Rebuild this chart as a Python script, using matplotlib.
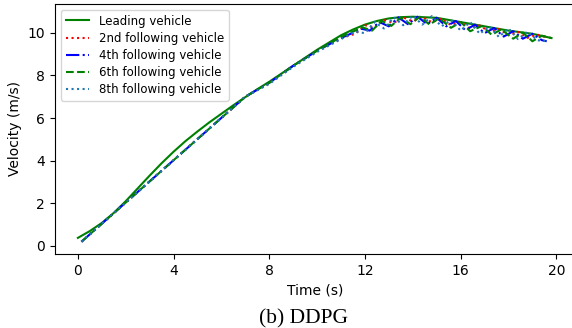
import numpy as np
import matplotlib as mpl
mpl.use("Agg")
import matplotlib.pyplot as plt

# leading vehicle velocity (m/s)
t_lead = [0, 0.5, 1, 1.5, 2, 2.5, 3, 3.5, 4, 4.5, 5, 5.5, 6, 6.5, 7, 7.5, 8, 9, 10,
          11, 11.5, 12, 12.5, 13, 13.5, 14, 15, 16, 17, 18, 19, 19.8]
v_lead = [0.38, 0.7, 1.08, 1.55, 2.1, 2.7, 3.3, 3.88, 4.42, 4.92, 5.37, 5.8, 6.2, 6.6,
          6.98, 7.35, 7.7, 8.45, 9.2, 9.88, 10.15, 10.38, 10.55, 10.67, 10.73, 10.75,
          10.7, 10.5, 10.3, 10.1, 9.95, 9.75]

# 2nd following vehicle
t_2 = [0.15, 7, 8, 9, 10, 11, 11.6, 12.0, 12.4, 12.8, 13.2, 13.6, 14.0, 14.4, 14.8,
       15.2, 15.6, 16.0, 16.4, 16.8, 17.2, 17.6, 18.0, 18.4, 18.8, 19.2, 19.6]
v_2 = [0.2, 7.0, 7.65, 8.45, 9.15, 9.75, 9.95, 10.35, 10.25, 10.6, 10.46, 10.72, 10.53,
       10.74, 10.49, 10.66, 10.36, 10.5, 10.2, 10.34, 10.04, 10.18, 9.88, 10.04, 9.76,
       9.91, 9.78]

# 4th following vehicle
t_4 = [0.15, 7, 8, 9, 10, 11, 11.4, 11.8, 12.2, 12.6, 13.0, 13.4, 13.8, 14.2, 14.6,
       15.0, 15.4, 15.8, 16.2, 16.6, 17.0, 17.4, 17.8, 18.2, 18.6, 19.0, 19.4, 19.6]
v_4 = [0.2, 7.0, 7.65, 8.45, 9.15, 9.75, 9.95, 10.2, 10.1, 10.5, 10.3, 10.72, 10.4,
       10.75, 10.4, 10.7, 10.3, 10.55, 10.12, 10.38, 9.98, 10.22, 9.82, 10.07, 9.72,
       9.95, 9.65, 9.6]

# 6th following vehicle
t_6 = [0.15, 7, 8, 9, 10, 11, 11.5, 11.9, 12.3, 12.7, 13.1, 13.5, 13.9, 14.3, 14.7,
       15.1, 15.6, 16.0, 16.4, 16.9, 17.3, 17.7, 18.2, 18.6, 19.0, 19.4, 19.8]
v_6 = [0.2, 7.0, 7.65, 8.45, 9.15, 9.8, 10.05, 10.25, 10.1, 10.56, 10.32, 10.71, 10.4,
       10.75, 10.38, 10.68, 10.23, 10.5, 10.07, 10.32, 9.9, 10.16, 9.72, 10.01, 9.6,
       9.86, 9.75]

# 8th following vehicle
t_8 = [0.15, 7, 8, 9, 10, 11, 11.6, 12.0, 12.4, 12.8, 13.2, 13.6, 14.0, 14.4, 14.8,
       15.2, 15.6, 16.0, 16.4, 16.8, 17.2, 17.6, 18.0, 18.4, 18.8, 19.2, 19.6]
v_8 = [0.2, 7.0, 7.6, 8.4, 9.1, 9.7, 10.05, 9.98, 10.5, 10.2, 10.72, 10.35, 10.8, 10.38,
       10.78, 10.3, 10.6, 10.1, 10.5, 9.95, 10.3, 9.8, 10.2, 9.7, 10.05, 9.65, 9.6]

fig = plt.figure(figsize=(5.72, 3.28), dpi=100)
ax = fig.add_axes([0.096, 0.226, 0.91, 0.762])

ax.plot(t_lead, v_lead, color='green', linestyle='-', label='Leading vehicle')
ax.plot(t_2, v_2, color='red', linestyle=':', label='2nd following vehicle')
ax.plot(t_4, v_4, color='blue', linestyle='-.', label='4th following vehicle')
ax.plot(t_6, v_6, color='green', linestyle='--', label='6th following vehicle')
ax.plot(t_8, v_8, color='tab:blue', linestyle=':', label='8th following vehicle')

ax.set_xlim(-0.96, 20.8)
ax.set_ylim(-0.37, 11.35)
ax.set_xticks([0, 4, 8, 12, 16, 20])
ax.set_yticks([0, 2, 4, 6, 8, 10])
ax.tick_params(labelsize=10)
ax.set_xlabel('Time (s)', fontsize=10)
ax.set_ylabel('Velocity (m/s)', fontsize=10)
ax.legend(loc='upper left', fontsize=8.5, labelspacing=0.35)

fig.text(0.53, 0.027, '(b) DDPG', family='Liberation Serif', fontsize=15.5,
         ha='center', va='center')

fig.savefig('out.png', dpi=100)
